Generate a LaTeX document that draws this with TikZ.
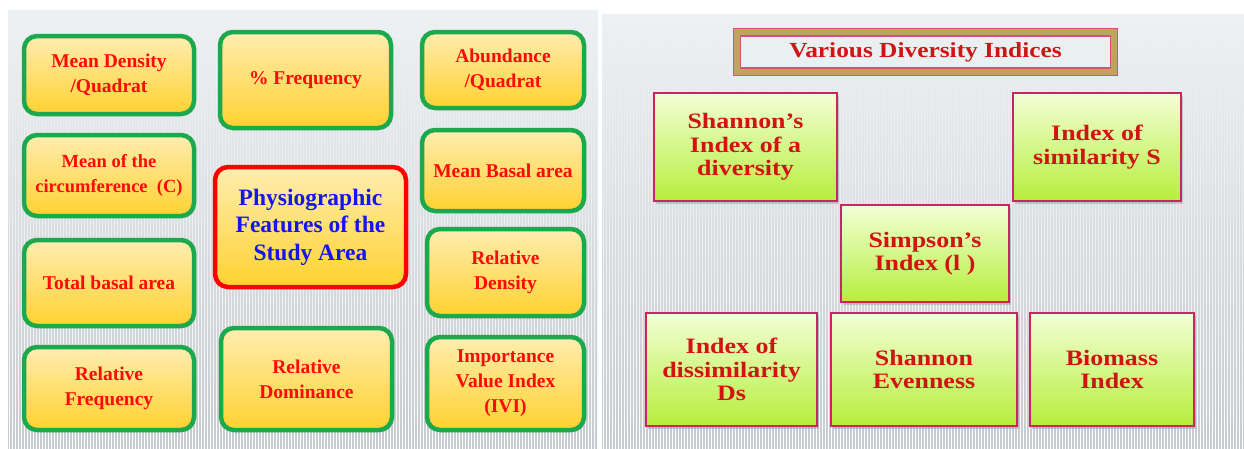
\documentclass[tikz,border=0pt]{standalone}
\usepackage{fontspec}
\setmainfont{Liberation Serif}
\newfontfamily\rfont[FakeStretch=1.18]{Liberation Serif}
\usetikzlibrary{shadows,patterns,fadings}
\definecolor{gborder}{HTML}{1CA84C}
\definecolor{ytop}{HTML}{FFEDB0}
\definecolor{ybot}{HTML}{FFD230}
\definecolor{ltext}{HTML}{FF0A0A}
\definecolor{btext}{HTML}{1515F0}
\definecolor{pborder}{HTML}{CC2460}
\definecolor{gtop}{HTML}{F3FFD6}
\definecolor{gbot}{HTML}{B6EE3C}
\definecolor{rtext}{HTML}{D01414}
\definecolor{tan}{HTML}{BFA45C}
\definecolor{bgtop}{HTML}{EEF1F3}
\definecolor{bgbot}{HTML}{C6CBCF}
\definecolor{tinner}{HTML}{EAEFF2}
\begin{document}
\begin{tikzpicture}[x=1pt,y=-1pt,
  panel/.style={top color=bgtop, bottom color=bgbot, draw=none},
  stripes/.style={pattern=vertical lines, pattern color=white, path fading=north},
  lbox/.style={draw=gborder, line width=4.5pt, rounded corners=13pt,
    top color=ytop, bottom color=ybot, align=center, inner sep=0pt,
    font=\fontsize{19.5}{25}\selectfont\bfseries, text=ltext,
    drop shadow={opacity=0.25, shadow xshift=1.5pt, shadow yshift=-2pt}},
  cbox/.style={lbox, draw=red, text=btext,
    font=\fontsize{23.5}{27.5}\selectfont\bfseries},
  rbox/.style={draw=pborder, line width=2.4pt,
    top color=gtop, bottom color=gbot, align=center, inner sep=0pt,
    font=\rfont\fontsize{22}{23.5}\selectfont\bfseries, text=rtext,
    drop shadow={opacity=0.35, shadow xshift=2pt, shadow yshift=-3pt}},
  tbox/.style={draw=pborder!80, line width=1.4pt, fill=tan, inner sep=0pt}
]
\useasboundingbox (0,0) rectangle (1244,448);
% panels
\fill[panel] (8,10) rectangle (598,448);
\fill[panel] (602,14) rectangle (1244,448);
\fill[stripes] (8,10) rectangle (598,448);
\fill[stripes] (602,14) rectangle (1244,448);

% left panel
\node[lbox, minimum width=170, minimum height=78] (md) at (109,75) {Mean Density\\/Quadrat};
\node[lbox, minimum width=171, minimum height=96] (pf) at (305.5,80) {\% Frequency};
\node[lbox, minimum width=162, minimum height=76] (ab) at (503,70) {Abundance\\/Quadrat};
\node[lbox, minimum width=170, minimum height=81, font=\fontsize{18.5}{25}\selectfont\bfseries] (mc) at (109,175.5) {Mean of the\\circumference\ \ (C)};
\node[cbox, minimum width=191, minimum height=120] (ph) at (310.5,227) {Physiographic\\Features of the\\Study Area};
\node[lbox, minimum width=162, minimum height=81] (mb) at (503,170.5) {Mean Basal area};
\node[lbox, minimum width=170, minimum height=86] (tb) at (109,283) {Total basal area};
\node[lbox, minimum width=157, minimum height=87] (rd) at (505.5,272.5) {Relative\\Density};
\node[lbox, minimum width=170, minimum height=83] (rf) at (109,388.5) {Relative\\Frequency};
\node[lbox, minimum width=171, minimum height=102] (rdo) at (306.5,379) {Relative\\Dominance};
\node[lbox, minimum width=157, minimum height=93] (ivi) at (505.5,383.5) {Importance\\Value Index\\(IVI)};

% right panel
\node[tbox, minimum width=384, minimum height=47] (tt) at (925.5,52) {};
\node[draw=pborder!80, line width=1.4pt, fill=tinner, minimum width=370, minimum height=32, inner sep=0pt,
  font=\rfont\fontsize{21.5}{22}\selectfont\bfseries, text=rtext] (title) at (tt.center) {Various Diversity Indices};
\node[rbox, minimum width=183, minimum height=108] (sh) at (745.5,147) {Shannon’s\\Index of a\\diversity};
\node[rbox, minimum width=168, minimum height=108] (si) at (1097,147) {Index of\\similarity S};
\node[rbox, minimum width=168, minimum height=97] (sp) at (925,253.5) {Simpson’s\\Index (l )};
\node[rbox, minimum width=171, minimum height=113] (dis) at (731.5,369.5) {Index of\\dissimilarity\\Ds};
\node[rbox, minimum width=186, minimum height=113] (ev) at (924,369.5) {Shannon\\Evenness};
\node[rbox, minimum width=164, minimum height=113] (bio) at (1112,369.5) {Biomass\\Index};
\end{tikzpicture}
\end{document}
